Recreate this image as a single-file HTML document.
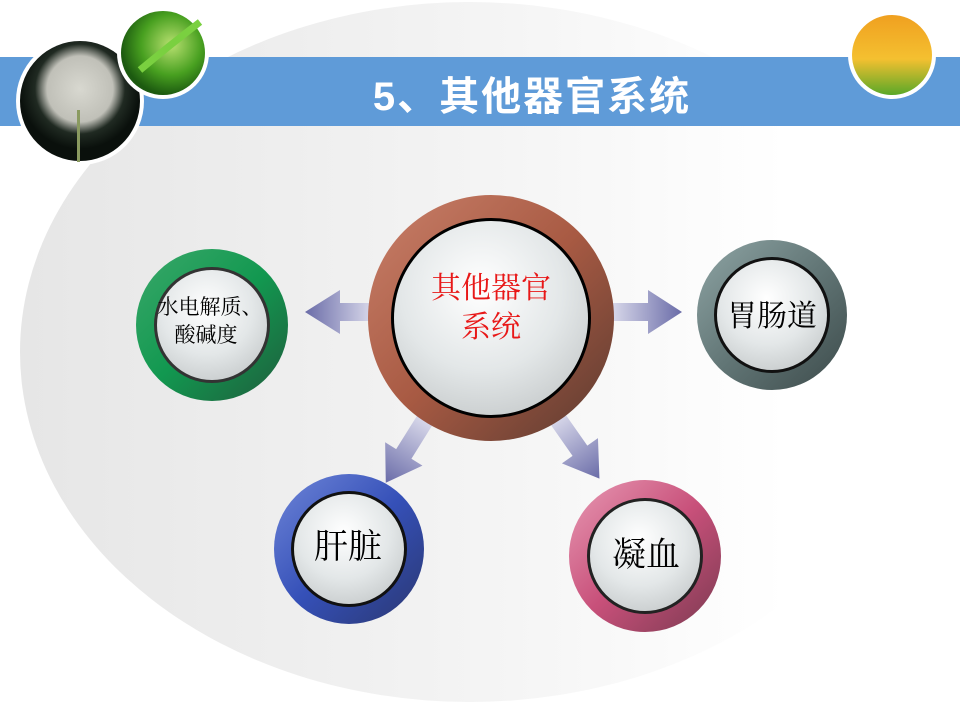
<!DOCTYPE html>
<html><head><meta charset="utf-8"><style>
html,body{margin:0;padding:0;background:#fff;overflow:hidden;}
svg{display:block;}
text{font-family:"Liberation Serif","Noto Serif CJK SC",serif;}
</style></head><body>
<svg width="960" height="720" viewBox="0 0 960 720" xmlns="http://www.w3.org/2000/svg">
<defs>
<linearGradient id="bg" x1="0" y1="0" x2="1" y2="0">
<stop offset="0" stop-color="#e6e6e6"/><stop offset="0.55" stop-color="#f5f5f5"/><stop offset="0.85" stop-color="#ffffff"/>
</linearGradient>
<radialGradient id="inner" cx="0.45" cy="0.35" r="0.7">
<stop offset="0" stop-color="#ffffff"/><stop offset="0.6" stop-color="#e3e7e8"/><stop offset="1" stop-color="#c8cccd"/>
</radialGradient>
<linearGradient id="brown" x1="0" y1="0" x2="1" y2="1"><stop offset="0" stop-color="#c9806a"/><stop offset="0.5" stop-color="#a85a43"/><stop offset="1" stop-color="#5a3a30"/></linearGradient>
<linearGradient id="green" x1="0" y1="0" x2="1" y2="1"><stop offset="0" stop-color="#3aa86a"/><stop offset="0.5" stop-color="#129850"/><stop offset="1" stop-color="#1f5c3c"/></linearGradient>
<linearGradient id="gray" x1="0" y1="0" x2="1" y2="1"><stop offset="0" stop-color="#8fa5a5"/><stop offset="0.5" stop-color="#627676"/><stop offset="1" stop-color="#3c4a4a"/></linearGradient>
<linearGradient id="blue" x1="0" y1="0" x2="1" y2="1"><stop offset="0" stop-color="#6f86d8"/><stop offset="0.5" stop-color="#3550b8"/><stop offset="1" stop-color="#2a3770"/></linearGradient>
<linearGradient id="pink" x1="0" y1="0" x2="1" y2="1"><stop offset="0" stop-color="#e89ab4"/><stop offset="0.5" stop-color="#c8507a"/><stop offset="1" stop-color="#7a3a50"/></linearGradient>
<linearGradient id="arr" x1="0" y1="0" x2="1" y2="0"><stop offset="0" stop-color="#d8d8ea"/><stop offset="1" stop-color="#6a6ca8"/></linearGradient>
<linearGradient id="arrL" x1="1" y1="0" x2="0" y2="0"><stop offset="0" stop-color="#d8d8ea"/><stop offset="1" stop-color="#6a6ca8"/></linearGradient>
<radialGradient id="dand" cx="0.5" cy="0.4" r="0.5"><stop offset="0" stop-color="#d8d8d0"/><stop offset="0.55" stop-color="#c0c0b8"/><stop offset="0.75" stop-color="#202a22"/><stop offset="1" stop-color="#0a100c"/></radialGradient>
<radialGradient id="leaf" cx="0.6" cy="0.4" r="0.6"><stop offset="0" stop-color="#b8e070"/><stop offset="0.6" stop-color="#48a020"/><stop offset="1" stop-color="#1c5a10"/></radialGradient>
<linearGradient id="tulip" x1="0" y1="0" x2="0" y2="1"><stop offset="0" stop-color="#f0a020"/><stop offset="0.55" stop-color="#f4c030"/><stop offset="1" stop-color="#5aa828"/></linearGradient>
</defs>
<rect width="960" height="720" fill="#fff"/>
<ellipse cx="470" cy="352" rx="450" ry="350" fill="url(#bg)"/>
<rect x="0" y="57" width="960" height="69" fill="#5f9bd8"/>
<text x="532" y="110" text-anchor="middle" font-size="40" font-weight="bold" fill="#fff" letter-spacing="2" style='font-family:"Liberation Sans","Noto Sans CJK SC",sans-serif'>5、其他器官系统</text>

<circle cx="80" cy="101" r="64" fill="#fff"/>
<circle cx="80" cy="101" r="60" fill="url(#dand)"/>
<rect x="77" y="110" width="3" height="52" fill="#8a9a60"/>
<circle cx="163" cy="53" r="46" fill="#fff"/>
<circle cx="163" cy="53" r="42" fill="url(#leaf)"/>
<path d="M140 70 Q170 45 200 22" stroke="#7ad040" stroke-width="7" fill="none"/>
<circle cx="892" cy="55" r="44" fill="#fff"/>
<circle cx="892" cy="55" r="40" fill="url(#tulip)"/>

<path fill="url(#arrL)" d="M372 303 L340 303 L340 290 L305 312 L340 334 L340 321 L372 321 Z"/>
<g fill="url(#arr)">
<path d="M612 303 L648 303 L648 290 L682 312 L648 334 L648 321 L612 321 Z"/>
<path d="M0 -9 L40 -9 L40 -22 L74 0 L40 22 L40 9 L0 9 Z" transform="translate(425 420) rotate(122)"/>
<path d="M0 -9 L40 -9 L40 -22 L74 0 L40 22 L40 9 L0 9 Z" transform="translate(557 418) rotate(55)"/>
</g>

<g>
<circle cx="491" cy="318" r="123" fill="url(#brown)"/>
<circle cx="491" cy="318" r="100" fill="#000"/>
<circle cx="491" cy="318" r="97" fill="url(#inner)"/>
<text x="491" y="298" text-anchor="middle" font-size="30" fill="#e81818">其他器官</text>
<text x="491" y="337" text-anchor="middle" font-size="30" fill="#e81818">系统</text>
</g>
<g>
<circle cx="212" cy="325" r="76" fill="url(#green)"/>
<circle cx="212" cy="325" r="58" fill="#333"/>
<circle cx="212" cy="325" r="55" fill="url(#inner)"/>
<text x="210" y="314" text-anchor="middle" font-size="21" fill="#000">水电解质、</text>
<text x="206" y="342" text-anchor="middle" font-size="21" fill="#000">酸碱度</text>
</g>
<g>
<circle cx="772" cy="315" r="75" fill="url(#gray)"/>
<circle cx="772" cy="315" r="58" fill="#111"/>
<circle cx="772" cy="315" r="55" fill="url(#inner)"/>
<text x="772" y="326" text-anchor="middle" font-size="30" fill="#000">胃肠道</text>
</g>
<g>
<circle cx="349" cy="549" r="75" fill="url(#blue)"/>
<circle cx="349" cy="549" r="58" fill="#111"/>
<circle cx="349" cy="549" r="55" fill="url(#inner)"/>
<text x="348" y="558" text-anchor="middle" font-size="34" fill="#000">肝脏</text>
</g>
<g>
<circle cx="645" cy="556" r="76" fill="url(#pink)"/>
<circle cx="645" cy="556" r="58" fill="#222"/>
<circle cx="645" cy="556" r="55" fill="url(#inner)"/>
<text x="646" y="566" text-anchor="middle" font-size="34" fill="#000">凝血</text>
</g>
</svg>
</body></html>
